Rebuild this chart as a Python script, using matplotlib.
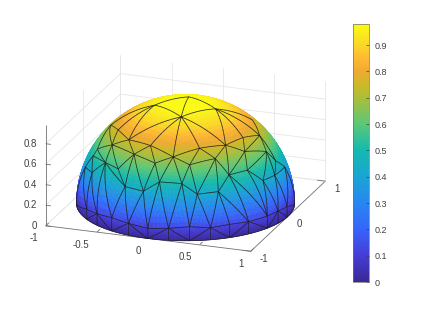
import numpy as np
import matplotlib
matplotlib.use("Agg")
import matplotlib.pyplot as plt
from matplotlib.colors import LinearSegmentedColormap, Normalize
from matplotlib.cm import ScalarMappable
from mpl_toolkits.mplot3d import proj3d
from mpl_toolkits.mplot3d.art3d import Poly3DCollection, Line3DCollection

plt.rcParams['font.family'] = ['Liberation Sans', 'DejaVu Sans']

# mesh nodes (last three sit behind the dome)
node_x = [-0.018, -0.267, 0.065, 0.291, 0.549, -0.686, -0.529, -0.356, -0.112, 0.132,
          0.336, 0.527, 0.616, 0.69, -0.531, -0.715, -0.749, -0.252, -0.02, 0.294,
          0.487, 0.676, 0.793, 0.861, 0.895, -0.551, -0.386, -0.699, -0.832, -0.275,
          -0.081, 0.058, 0.263, 0.409, 0.574, 0.626, 0.742, 0.858, 0.903,
          -0.709, -0.565, -0.387, -0.202, -0.006, 0.189, 0.373, 0.546, 0.689, 0.819, 0.927, 0.973, 0.995,
          -0.94, -0.705, -0.561, -0.383, -0.2, -0.004, 0.191, 0.376, 0.548, 0.692, 0.822, 0.931, 0.978, 1.0, 0.94,
          -0.28, -0.9, 0.75]
node_y = [0.138, -0.098, -0.295, 0.006, 0.281, -0.117, -0.352, -0.542, -0.632, -0.694,
          -0.546, -0.376, -0.155, 0.088, -0.507, -0.397, -0.418, -0.686, -0.76, -0.699,
          -0.543, -0.274, -0.014, 0.048, 0.197, -0.631, -0.745, -0.584, -0.396, -0.862,
          -0.905, -0.858, -0.821, -0.811, -0.7, -0.557, -0.385, -0.284, -0.094,
          -0.699, -0.818, -0.914, -0.973, -0.995, -0.975, -0.918, -0.83, -0.713, -0.561, -0.357, -0.198, -0.016,
          -0.342, -0.709, -0.828, -0.924, -0.98, -1.0, -0.982, -0.927, -0.836, -0.722, -0.569, -0.366, -0.21, -0.028, 0.343,
          0.57, 0.3, 0.65]
node_z = [0.99, 0.959, 0.953, 0.957, 0.787, 0.718, 0.772, 0.761, 0.767, 0.708,
          0.767, 0.762, 0.772, 0.718, 0.678, 0.576, 0.514, 0.683, 0.65, 0.652,
          0.684, 0.684, 0.61, 0.506, 0.4, 0.546, 0.544, 0.414, 0.388, 0.425,
          0.418, 0.511, 0.507, 0.418, 0.426, 0.547, 0.548, 0.427, 0.419,
          0.094, 0.11, 0.126, 0.114, 0.097, 0.115, 0.134, 0.116, 0.126, 0.117, 0.115, 0.116, 0.098,
          0, 0, 0, 0, 0, 0, 0, 0, 0, 0, 0, 0, 0, 0, 0,
          0.77, 0.3, 0.15]

front_tris = [(0,1,2),(0,2,3),(1,2,7),(1,7,6),(1,6,5),(2,7,8),(2,8,9),(2,9,10),(2,10,11),(2,11,3),
              (3,11,12),(3,12,13),(3,13,4),(7,8,17),(8,17,18),(8,18,9),(9,19,10),(10,11,20),(10,20,19),
              (18,9,31),(9,31,32),(9,32,19),(19,32,33),(19,33,20),(20,33,34),(20,34,35),(20,35,11),
              (18,31,30),(17,18,30),(17,30,29),(17,29,26),(7,14,17),(14,17,26),(14,26,25),(7,14,6),
              (14,6,5),(14,5,15),(14,15,25),(15,16,25),(16,25,27),(16,27,28),(28,27,39),(28,39,52),
              (25,26,29),(25,29,41),(25,41,40),(25,40,27),(27,40,39),(29,41,42),(29,42,30),(30,42,43),
              (30,43,31),(31,43,44),(31,44,32),(32,44,45),(32,45,33),(33,45,46),(33,46,34),(34,46,47),
              (34,47,48),(34,48,35),(35,48,49),(35,49,36),(36,49,37),(37,49,50),(37,50,38),(38,50,51),
              (38,51,24),(24,51,66),(11,35,21),(11,21,12),(12,21,13),(13,21,22),(13,22,23),(21,22,36),
              (21,36,35),(22,36,37),(22,37,38),(22,38,23),(23,38,24),
              (39,52,53),(39,40,53),(40,53,54),(40,54,55),(40,41,55),(41,42,55),(42,55,56),(42,56,57),
              (42,43,57),(43,44,57),(44,57,58),(44,58,59),(44,45,59),(45,46,59),(46,59,60),(46,60,61),
              (46,47,61),(47,48,61),(48,61,62),(48,62,63),(48,49,63),(49,50,63),(50,63,64),(50,64,65),
              (50,51,65),(51,65,66)]
back_tris = [(52,28,68),(28,16,68),(16,15,68),(15,5,68),(68,5,67),(5,1,67),(1,0,67),(0,3,67),(3,4,67),
             (67,4,69),(4,13,69),(13,23,69),(23,24,69),(24,66,69)]

xticks = [-1, -0.5, 0, 0.5, 1]
xlabels = ['-1', '-0.5', '0', '0.5', '1']
yticks = [-1, 0, 1]
ylabels = ['-1', '0', '1']
zticks = [0, 0.2, 0.4, 0.6, 0.8]
zlabels = ['0', '0.2', '0.4', '0.6', '0.8']
cticks = [0, 0.1, 0.2, 0.3, 0.4, 0.5, 0.6, 0.7, 0.8, 0.9]
clabels = ['0', '0.1', '0.2', '0.3', '0.4', '0.5', '0.6', '0.7', '0.8', '0.9']
zmax = 0.98

# colours
cmap_at = [0, 0.1, 0.2, 0.3, 0.4, 0.5, 0.6, 0.7, 0.75, 0.8, 0.85, 0.9, 0.98]
cmap_rgb = ['#3a2896', '#463cd7', '#3764fa', '#2887f0', '#19a5d2', '#14b9af', '#5ac878',
            '#aabe3c', '#cdb928', '#f0aa32', '#ffb932', '#fad728', '#fafa14']
parula = LinearSegmentedColormap.from_list('parula', [(v/zmax, c) for v, c in zip(cmap_at, cmap_rgb)])
norm = Normalize(0, zmax)

nodes = np.column_stack([node_x, node_y, node_z])
nodes = nodes / np.linalg.norm(nodes, axis=1, keepdims=True)

# az=20, el=20 in matlab terms
t = np.radians(20)
view = np.array([np.sin(t)*np.cos(t), -np.cos(t)*np.cos(t), np.sin(t)])
scr_r = np.array([np.cos(t), np.sin(t), 0])
scr_u = np.array([-np.sin(t)*np.sin(t), np.cos(t)*np.sin(t), np.cos(t)])
px = 109.0


def split_tri(a, b, c, n):
    polys = []
    def pt(i, j):
        p = (a*(n-i-j) + b*i + c*j) / n
        return p / np.linalg.norm(p)
    for i in range(n):
        for j in range(n-i):
            polys.append([pt(i, j), pt(i+1, j), pt(i, j+1)])
            if i + j < n-1:
                polys.append([pt(i+1, j), pt(i+1, j+1), pt(i, j+1)])
    return polys


polys = []
for tri in front_tris:
    polys += split_tri(*nodes[list(tri)], 8)
for tri in back_tris:
    polys += split_tri(*nodes[list(tri)], 16)
polys = np.array(polys)
mid = polys.mean(axis=1)
polys = polys[mid @ view > 0]
cols = parula(norm(polys[:, :, 2].mean(axis=1)))

edges = set()
for tri in front_tris:
    for a, b in [(0, 1), (1, 2), (0, 2)]:
        edges.add(tuple(sorted((tri[a], tri[b]))))
segs = []
for a, b in sorted(edges):
    p = [nodes[a]*(1-s) + nodes[b]*s for s in np.arange(11)/10]
    p = [q/np.linalg.norm(q) for q in p]
    segs += [[p[i], p[i+1]] for i in range(10)]
segs = np.array(segs)
segs = segs[segs.mean(axis=1) @ view > 0]

fig = plt.figure(figsize=(4.23, 3.17), dpi=100)
ax = fig.add_axes([1.5/423, 1/317, 0.85, 1.0], projection='3d', computed_zorder=False)
ax.set_proj_type('ortho')
ax.view_init(elev=20, azim=-70)
ax.set_xlim(-1, 1, view_margin=0)
ax.set_ylim(-1, 1, view_margin=0)
ax.set_zlim(0, zmax, view_margin=0)
ax.set_box_aspect((2, 2, zmax), zoom=1.0)
ax.patch.set_alpha(0)

# grid and tick marks are drawn by hand, so no hidden tick texts are left over
ax.set_xticks([])
ax.set_yticks([])
ax.set_zticks([])
for axis in (ax.xaxis, ax.yaxis):
    axis.set_pane_color((1, 1, 1, 0))
    axis.pane.set_edgecolor((1, 1, 1, 0))
    axis.line.set_color('#707070')
    axis.line.set_linewidth(0.6)
ax.zaxis.set_pane_color((1, 1, 1, 0))
ax.zaxis.pane.set_edgecolor((1, 1, 1, 0))
ax.zaxis.line.set_color((1, 1, 1, 0))

grid = []
for v in xticks:
    grid.append([(v, 1, 0), (v, 1, zmax)])
    if v != 1:
        grid.append([(v, -1, 0), (v, 1, 0)])
for v in yticks:
    if v != -1:
        grid.append([(-1, v, 0), (-1, v, zmax)])
        grid.append([(-1, v, 0), (1, v, 0)])
for v in zticks:
    grid += [[(-1, 1, v), (1, 1, v)], [(-1, -1, v), (-1, 1, v)]]
ax.add_collection3d(Line3DCollection(grid, colors='#e6e6e6', linewidths=0.6, zorder=1))

marks = [[(v, -1, 0), (v, -0.92, 0)] for v in xticks]
marks += [[(1, v, 0), (0.92, v, 0)] for v in yticks]
marks += [[(-1, -1, v), (-0.95, -1, v)] for v in zticks]
marks.append([(-1, -1, 0), (-1, -1, zmax)])
ax.add_collection3d(Line3DCollection(marks, colors='#707070', linewidths=0.6, zorder=1.5))

ax.add_collection3d(Poly3DCollection(polys, facecolors=cols, edgecolors=cols, linewidths=0.4, zorder=2))
ax.add_collection3d(Line3DCollection(segs, colors='#202020', linewidths=0.55, alpha=0.95, zorder=3))

proj = ax.get_proj()


def tick_text(pos, label, dx, dy, ha):
    # dx, dy are the label offset from the tick in pixels
    p = np.array(pos) + (dx*scr_r + dy*scr_u)/px
    x2, y2, _ = proj3d.proj_transform(p[0], p[1], p[2], proj)
    ax.text2D(x2, y2, label, transform=ax.transData, ha=ha, va='center',
              fontsize=7, color='#404040', zorder=4)


for v, lab in zip(xticks, xlabels):
    tick_text((v, -1, 0), lab, -7.5, -12.5, 'right')
for v, lab in zip(yticks, ylabels):
    tick_text((1, v, 0), lab, 8.5, -7.5, 'left')
for v, lab in zip(zticks, zlabels):
    tick_text((-1, -1, v), lab, -9, 0, 'right')

cax = fig.add_axes([352.7/423, 1-282/317, 16/423, 258/317])
cb = fig.colorbar(ScalarMappable(norm=norm, cmap=parula), cax=cax, ticks=cticks)
cb.ax.set_yticklabels(clabels)
cb.ax.tick_params(labelsize=6.5, colors='#404040', direction='in', length=2, width=0.5, pad=4)
cb.outline.set_edgecolor('#707070')
cb.outline.set_linewidth(0.5)

fig.savefig('out.png', dpi=100)
